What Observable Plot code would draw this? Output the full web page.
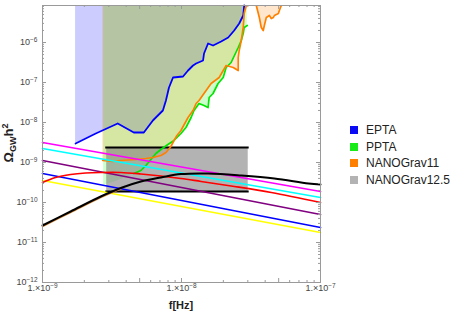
<!DOCTYPE html>
<html><head><meta charset="utf-8">
<script src="https://cdn.jsdelivr.net/npm/d3@7"></script>
<script src="https://cdn.jsdelivr.net/npm/@observablehq/plot@0.6"></script>
<style>
body{margin:0;background:#fff;}
#wrap{position:relative;width:457px;height:315px;font-family:"Liberation Sans",Arial,sans-serif;}
#legend{position:absolute;left:350px;top:121.7px;font-size:12px;color:#222;}
.row{display:flex;align-items:center;height:16.7px;white-space:nowrap;}
.sw{width:8px;height:8px;margin-right:8px;flex:none;}
</style></head><body><div id="wrap"></div>
<script>
// ---- data (log10 of frequency [Hz] and of Omega_GW h^2) ----
const eptaLogF = [-8.762,-8.617,-8.459,-8.343,-8.271,-8.206,-8.134,-8.112,-8.090,-8.061,-7.989,-7.953,-7.917,-7.895,-7.845,-7.838,-7.809,-7.773,-7.715,-7.664,-7.621,-7.585,-7.556,-7.549];
const eptaLogOmega = [-8.525,-8.275,-8.025,-8.25,-8.25,-7.95,-7.7,-7.45,-7.125,-6.875,-6.85,-6.7,-6.575,-6.525,-6.45,-6.275,-6.025,-6.075,-5.975,-5.875,-5.7,-5.525,-5.325,-5.075];

const pptaLogF = [-8.560,-8.473,-8.401,-8.343,-8.292,-8.256,-8.220,-8.184,-8.148,-8.098,-8.054,-8.004,-7.968,-7.931,-7.910,-7.874,-7.838,-7.809,-7.801,-7.773,-7.737,-7.700,-7.679,-7.643,-7.592,-7.570,-7.556,-7.549,-7.527];
const pptaLogOmega = [-9.575,-9.475,-9.375,-9.275,-9.2,-9.075,-8.925,-8.775,-8.675,-8.55,-8.45,-8.275,-8.125,-7.875,-7.7,-7.525,-7.575,-7.625,-7.375,-7.275,-7.025,-6.875,-6.625,-6.5,-6.125,-5.95,-5.775,-5.625,-5.575];

const ng11LogF = [-8.567,-8.495,-8.437,-8.329,-8.256,-8.206,-8.148,-8.112,-8.076,-8.054,-8.033,-8.004,-7.953,-7.917,-7.895,-7.874,-7.823,-7.787,-7.729,-7.679,-7.628,-7.592,-7.592,-7.585,-7.570,-7.556,-7.549,-7.534];
const ng11LogOmega = [-8.95,-8.975,-8.95,-8.925,-8.9,-8.875,-8.825,-8.75,-8.6,-8.45,-8.325,-8.2,-7.875,-7.7,-7.525,-7.45,-7.2,-7.025,-6.875,-6.575,-6.625,-6.7,-6.375,-6.2,-5.95,-5.625,-5.275,-5.075];
const ng11bLogF = [-7.462,-7.440,-7.426,-7.412,-7.404,-7.390,-7.368,-7.354,-7.339,-7.332,-7.303,-7.296,-7.282];
const ng11bLogOmega = [-5.075,-5.375,-5.625,-5.7,-5.575,-5.375,-5.325,-5.4,-5.375,-5.325,-5.275,-5.2,-5.075];

const ng125LogF = [-8.538, -7.520];
const ng125LogOmega = [-9.725, -8.625];
const ng125EdgeLogF = [-8.545, -7.513];

const blackLogF = [-9,-8.798,-8.581,-8.437,-8.292,-8.148,-8.004,-7.809,-7.570,-7.332,-7.087,-7];
const blackLogOmega = [-10.575,-10.225,-9.85,-9.6375,-9.475,-9.375,-9.29,-9.275,-9.325,-9.4,-9.525,-9.55];

const redLogF = [-9,-8.906,-8.798,-8.690,-8.581,-8.437,-8.292,-8.148,-8.004,-7.859,-7.643,-7.354,-7];
const redLogOmega = [-9.5,-9.375,-9.3,-9.2625,-9.25,-9.25,-9.2875,-9.3375,-9.4,-9.475,-9.5875,-9.75,-10.0];

const powerLawLogF = [-9, -7];
const magentaLogOmega = [-8.5, -9.725];
const cyanLogOmega = [-8.65, -9.875];
const purpleLogOmega = [-8.95, -10.3];
const blueLogOmega = [-9.275, -10.625];
const yellowLogOmega = [-9.45, -10.75];

const xMajor = [1e-9, 5e-9, 1e-8, 5e-8, 1e-7];
const xMajorLabels = ["1.×10^−9", "5.×10^−9", "1.×10^−8", "5.×10^−8", "1.×10^−7"];
const yMajor = [1e-12, 1e-11, 1e-10, 1e-9, 1e-8, 1e-7, 1e-6];
const yMajorLabels = ["10^−12", "10^−11", "10^−10", "10^−9", "10^−8", "10^−7", "10^−6"];

const legendNames = ["EPTA", "PPTA", "NANOGrav11", "NANOGrav12.5"];
const legendColors = ["#0a0af5", "#19eb19", "#ff8000", "#b3b3b3"];

// ---- build ----
const TOP = 10 ** -5.075;
const series = (lf, lo) => lf.map((v, i) => ({f: 10 ** v, omega: 10 ** lo[i]}));
const epta = series(eptaLogF, eptaLogOmega);
const ppta = series(pptaLogF, pptaLogOmega);
const ng11 = series(ng11LogF, ng11LogOmega);
const ng11b = series(ng11bLogF, ng11bLogOmega);
const black = series(blackLogF, blackLogOmega);
const red = series(redLogF, redLogOmega);
const pl = {
  "#ff00ff": series(powerLawLogF, magentaLogOmega),
  "#00ffff": series(powerLawLogF, cyanLogOmega),
  "#800080": series(powerLawLogF, purpleLogOmega),
  "#0000ff": series(powerLawLogF, blueLogOmega),
  "#ffff00": series(powerLawLogF, yellowLogOmega)
};
const box = [{x1: 10 ** ng125LogF[0], x2: 10 ** ng125LogF[1], y1: 10 ** ng125LogOmega[0], y2: 10 ** ng125LogOmega[1]}];

const xMinor = [];
for (const d of [1e-9, 1e-8]) for (const m of [2,3,4,6,7,8,9]) xMinor.push(m * d);
const yMinor = [];
for (const d of yMajor) for (const m of [2,3,4,5,6,7,8,9]) if (m * d < TOP) yMinor.push(m * d);

const W = 457, H = 315, ML = 42, MR = 137, MT = 5, MB = 33;
const FW = W - ML - MR, FH = H - MT - MB;
const frameColor = "#9a9a9a";
const lab = (vals, labels) => d => { const i = vals.findIndex(v => Math.abs(Math.log10(v) - Math.log10(d)) < 1e-6); return i >= 0 ? labels[i] : ""; };

const marks = [
  Plot.areaY(epta, {x: "f", y1: "omega", y2: () => TOP, fill: "#0000ff", fillOpacity: 0.2}),
  Plot.areaY(ppta, {x: "f", y1: "omega", y2: () => TOP, fill: "#00ff00", fillOpacity: 0.2}),
  Plot.areaY(ng11, {x: "f", y1: "omega", y2: () => TOP, fill: "#ff8000", fillOpacity: 0.2}),
  Plot.areaY(ng11b, {x: "f", y1: "omega", y2: () => TOP, fill: "#ff8000", fillOpacity: 0.2}),
  Plot.rect(box, {x1: "x1", x2: "x2", y1: "y1", y2: "y2", fill: "#808080", fillOpacity: 0.6}),
  Plot.ruleY(ng125LogOmega.map(v => 10 ** v), {y: d => d, x1: () => 10 ** ng125EdgeLogF[0], x2: () => 10 ** ng125EdgeLogF[1], stroke: "black", strokeWidth: 1.8}),
  Plot.line(epta, {x: "f", y: "omega", stroke: "#0000ff", strokeWidth: 1.8}),
  Plot.line(ppta.slice(3), {x: "f", y: "omega", stroke: "#00e600", strokeWidth: 1.7}),
  Plot.line(ng11, {x: "f", y: "omega", stroke: "#ff8000", strokeWidth: 1.7, clip: true}),
  Plot.line(ng11b, {x: "f", y: "omega", stroke: "#ff8000", strokeWidth: 1.7, clip: true}),
  ...Object.entries(pl).map(([c, d]) => Plot.line(d, {x: "f", y: "omega", stroke: c, strokeWidth: 1.7})),
  Plot.line(red, {x: "f", y: "omega", stroke: "#ff0000", strokeWidth: 1.7, curve: "catmull-rom"}),
  Plot.line(black.slice(0, 4), {x: "f", y: "omega", stroke: "#e08a30", strokeWidth: 1.2, dy: 1.1, curve: "catmull-rom"}),
  Plot.line(black, {x: "f", y: "omega", stroke: "black", strokeWidth: 2, curve: "catmull-rom"}),
  // frame and inward ticks
  Plot.frame({stroke: frameColor}),
  Plot.tickY(yMajor, {y: d => d, stroke: frameColor, insetRight: FW - 4}),
  Plot.tickY(yMajor, {y: d => d, stroke: frameColor, insetLeft: FW - 4}),
  Plot.tickY(yMinor, {y: d => d, stroke: frameColor, insetRight: FW - 2}),
  Plot.tickY(yMinor, {y: d => d, stroke: frameColor, insetLeft: FW - 2}),
  Plot.tickX(xMajor, {x: d => d, stroke: frameColor, insetTop: FH - 4}),
  Plot.tickX(xMajor, {x: d => d, stroke: frameColor, insetBottom: FH - 4}),
  Plot.tickX(xMinor, {x: d => d, stroke: frameColor, insetTop: FH - 2}),
  Plot.tickX(xMinor, {x: d => d, stroke: frameColor, insetBottom: FH - 2}),
  Plot.axisY(yMajor, {anchor: "left", tickSize: 0, tickPadding: 5, tickFormat: lab(yMajor, yMajorLabels), label: null, fontSize: 9}),
  Plot.axisX(xMajor, {anchor: "bottom", tickSize: 0, tickPadding: 2, tickFormat: lab(xMajor, xMajorLabels), label: null, fontSize: 9})
];

const svg = Plot.plot({
  width: W, height: H,
  marginLeft: ML, marginRight: MR, marginTop: MT, marginBottom: MB,
  x: {type: "log", domain: [1e-9, 1e-7], label: null},
  y: {type: "log", domain: [1e-12, TOP], label: null},
  style: {background: "white", fontFamily: "'Liberation Sans', Arial, sans-serif", fontSize: "9px", color: "#444"},
  marks
});

// superscripts in tick labels
d3.select(svg).selectAll("text").each(function() {
  const t = this.textContent;
  if (!t.includes("^")) return;
  const [base, exp] = t.split("^");
  const el = d3.select(this);
  el.text(null);
  el.append("tspan").text(base);
  el.append("tspan").attr("dy", "-0.45em").attr("font-size", "6.5").text(exp);
});

// axis titles
const yt = d3.select(svg).append("text")
  .attr("transform", "translate(12.5,143) rotate(-90)")
  .attr("text-anchor", "middle").attr("font-weight", "bold").attr("font-size", 13).attr("fill", "#222");
yt.append("tspan").text("Ω");
yt.append("tspan").attr("font-size", 9).attr("dy", 3).text("GW");
yt.append("tspan").attr("dy", -3).text("h");
yt.append("tspan").attr("font-size", 9).attr("dy", -5).text("2");

d3.select(svg).append("text")
  .attr("x", 181).attr("y", 309)
  .attr("text-anchor", "middle").attr("font-weight", "bold").attr("font-size", 11).attr("fill", "#222")
  .text("f[Hz]");

const wrap = document.getElementById("wrap");
wrap.appendChild(svg);
const legend = document.createElement("div");
legend.id = "legend";
legendNames.forEach((n, i) => {
  const row = document.createElement("div");
  row.className = "row";
  const sw = document.createElement("span");
  sw.className = "sw";
  sw.style.background = legendColors[i];
  const tx = document.createElement("span");
  tx.textContent = n;
  row.appendChild(sw); row.appendChild(tx);
  legend.appendChild(row);
});
wrap.appendChild(legend);
</script>
</body></html>
